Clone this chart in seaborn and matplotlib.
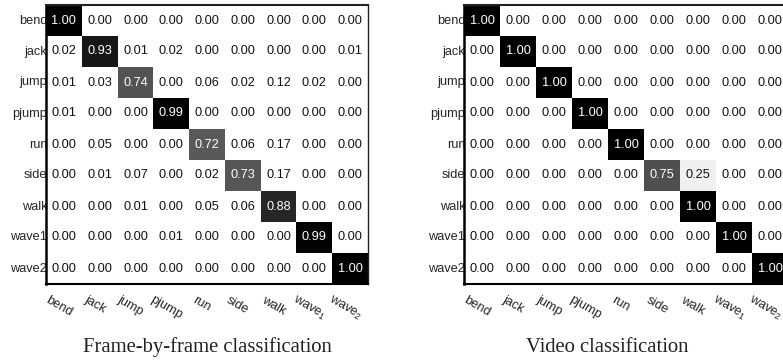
import numpy as np
import pandas as pd
import matplotlib
matplotlib.use("Agg")
import matplotlib.pyplot as plt
import matplotlib.transforms as mtransforms
import seaborn as sns

# klasy akcji
classes = ['bend', 'jack', 'jump', 'pjump', 'run', 'side', 'walk', 'wave1', 'wave2']
x_labels = ['bend', 'jack', 'jump', 'pjump', 'run', 'side', 'walk',
            r'wave$_1$', r'wave$_2$']

# macierz pomyłek - klasyfikacja klatka po klatce
frame_cm = [
    [1.00, 0.00, 0.00, 0.00, 0.00, 0.00, 0.00, 0.00, 0.00],
    [0.02, 0.93, 0.01, 0.02, 0.00, 0.00, 0.00, 0.00, 0.01],
    [0.01, 0.03, 0.74, 0.00, 0.06, 0.02, 0.12, 0.02, 0.00],
    [0.01, 0.00, 0.00, 0.99, 0.00, 0.00, 0.00, 0.00, 0.00],
    [0.00, 0.05, 0.00, 0.00, 0.72, 0.06, 0.17, 0.00, 0.00],
    [0.00, 0.01, 0.07, 0.00, 0.02, 0.73, 0.17, 0.00, 0.00],
    [0.00, 0.00, 0.01, 0.00, 0.05, 0.06, 0.88, 0.00, 0.00],
    [0.00, 0.00, 0.00, 0.01, 0.00, 0.00, 0.00, 0.99, 0.00],
    [0.00, 0.00, 0.00, 0.00, 0.00, 0.00, 0.00, 0.00, 1.00],
]

# macierz pomyłek - klasyfikacja całych nagrań
video_cm = [
    [1.00, 0.00, 0.00, 0.00, 0.00, 0.00, 0.00, 0.00, 0.00],
    [0.00, 1.00, 0.00, 0.00, 0.00, 0.00, 0.00, 0.00, 0.00],
    [0.00, 0.00, 1.00, 0.00, 0.00, 0.00, 0.00, 0.00, 0.00],
    [0.00, 0.00, 0.00, 1.00, 0.00, 0.00, 0.00, 0.00, 0.00],
    [0.00, 0.00, 0.00, 0.00, 1.00, 0.00, 0.00, 0.00, 0.00],
    [0.00, 0.00, 0.00, 0.00, 0.00, 0.75, 0.25, 0.00, 0.00],
    [0.00, 0.00, 0.00, 0.00, 0.00, 0.00, 1.00, 0.00, 0.00],
    [0.00, 0.00, 0.00, 0.00, 0.00, 0.00, 0.00, 1.00, 0.00],
    [0.00, 0.00, 0.00, 0.00, 0.00, 0.00, 0.00, 0.00, 1.00],
]

titles = ['Frame-by-frame classification', 'Video classification']

sns.set_style('white')
plt.rcParams['font.family'] = ['Liberation Sans', 'DejaVu Sans']
plt.rcParams['mathtext.fontset'] = 'custom'
plt.rcParams['mathtext.rm'] = 'Liberation Sans'
plt.rcParams['mathtext.it'] = 'Liberation Sans:italic'

fig = plt.figure(figsize=(7.83, 3.6), dpi=100)

# pozycje osi w pikselach (lewo, szerokość)
W, H = 783, 360
axes_px = [(46, 322), (464, 324)]
title_x = [207, 607]
FS = 9.2


def draw_cm(ax, cm):
    df = pd.DataFrame(np.array(cm), index=classes, columns=classes)
    sns.heatmap(df, ax=ax, cmap='gray_r', vmin=0.2, vmax=1.0, cbar=False,
                annot=False, linewidths=0)
    for i in range(len(classes)):
        for j in range(len(classes)):
            v = df.iat[i, j]
            ax.text(j + 0.5, i + 0.5, f'{v:.2f}', ha='center', va='center',
                    fontsize=FS, color='white' if v > 0.5 else '#111111')
    ax.set_xticks(np.arange(len(classes)) + 0.5)
    ax.set_xticklabels(x_labels, rotation=-30, ha='center', va='top', fontsize=FS)
    ax.set_yticks(np.arange(len(classes)) + 0.5)
    ax.set_yticklabels(classes, rotation=0, fontsize=FS)
    ax.tick_params(axis='both', length=0)
    ax.tick_params(axis='y', pad=-1)
    ax.tick_params(axis='x', pad=7)
    # etykiety osi x lekko w lewo, jak w oryginale
    shift = mtransforms.ScaledTranslation(-5 / 100, 0, fig.dpi_scale_trans)
    for lbl in ax.get_xticklabels():
        lbl.set_transform(lbl.get_transform() + shift)
    ax.set_xlabel('')
    ax.set_ylabel('')
    for side, sp in ax.spines.items():
        sp.set_visible(True)
        sp.set_color('#222222')
        sp.set_linewidth(1.0)
    ax.spines['left'].set_linewidth(1.8)
    ax.spines['left'].set_color('black')
    ax.spines['bottom'].set_linewidth(1.5)
    ax.spines['bottom'].set_color('black')
    ax.spines['top'].set_linewidth(1.5)


for (left, width), cm, title, tx in zip(axes_px, [frame_cm, video_cm], titles, title_x):
    ax = fig.add_axes([left / W, 1 - 284 / H, width / W, 279 / H])
    draw_cm(ax, cm)
    fig.text(tx / W, 1 - 347 / H, title, ha='center', va='center',
             fontsize=14.9, family='Liberation Serif', color='#222222')

fig.savefig('out.png', dpi=100)
plt.close(fig)
